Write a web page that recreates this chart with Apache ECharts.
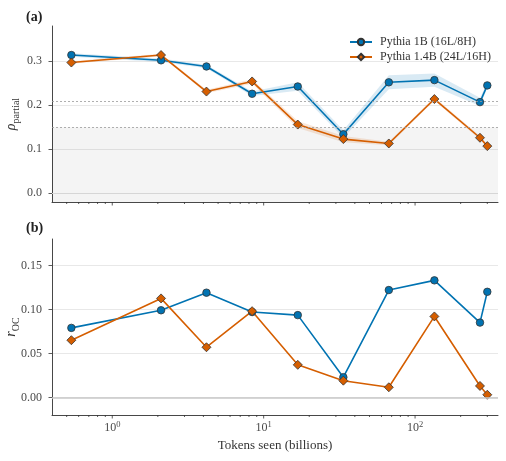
<!DOCTYPE html>
<html>
<head>
<meta charset="utf-8">
<script src="https://cdn.jsdelivr.net/npm/echarts@6/dist/echarts.min.js"></script>
<style>
  html, body { margin: 0; padding: 0; background: #fff; }
  #chart { width: 506px; height: 461px; }
</style>
</head>
<body>
<div id="chart"></div>
<script>
// tokens seen (billions) per checkpoint
const tokens = [0.537, 2.10, 4.19, 8.39, 16.8, 33.6, 67.1, 134.2, 268.4, 300]

// panel (a) rho_partial
const rho1B = [0.314, 0.302, 0.288, 0.226, 0.2425, 0.134, 0.252, 0.257, 0.207, 0.245]
const rho1BLo = [0.310, 0.298, 0.284, 0.221, 0.233, 0.126, 0.236, 0.242, 0.198, 0.239]
const rho1BHi = [0.318, 0.306, 0.292, 0.231, 0.252, 0.143, 0.268, 0.272, 0.217, 0.251]
const rho14B = [0.297, 0.314, 0.231, 0.254, 0.156, 0.123, 0.113, 0.214, 0.126, 0.107]
const rho14BLo = [0.294, 0.311, 0.227, 0.249, 0.148, 0.116, 0.109, 0.210, 0.122, 0.104]
const rho14BHi = [0.300, 0.317, 0.235, 0.259, 0.164, 0.130, 0.117, 0.218, 0.130, 0.110]

// panel (b) r_OC
const roc1B = [0.079, 0.099, 0.119, 0.097, 0.0935, 0.023, 0.122, 0.133, 0.085, 0.120]
const roc14B = [0.065, 0.1125, 0.057, 0.098, 0.037, 0.019, 0.0115, 0.092, 0.013, 0.003]

// reference lines in (a)
const dashedLevels = [0.211, 0.15]

// tick values
const xMajorTicks = [1, 10, 100]
const xMinorTicks = [0.5, 0.6, 0.7, 0.8, 0.9, 2, 3, 4, 5, 6, 7, 8, 9,
  20, 30, 40, 50, 60, 70, 80, 90, 200, 300]
const yTicksA = [0, 0.1, 0.2, 0.3]
const yTicksB = [0, 0.05, 0.10, 0.15]

const names = ['Pythia 1B (16L/8H)', 'Pythia 1.4B (24L/16H)']

const FONT = 'Liberation Serif'
const BLUE = '#0173b2'
const ORANGE = '#d55e00'
const AXIS = '#333'
const LABEL = '#4a4a4a'
const X_MIN = 0.4, X_MAX = 353
const A_MIN = -0.02, A_MAX = 0.38
const B_MIN = -0.02, B_MAX = 0.18

const chart = echarts.init(document.getElementById('chart'))

const pairs = (ys) => tokens.map((t, i) => [t, ys[i]])

const xAxisBase = (idx, showLabel) => ({
  type: 'log',
  logBase: 10,
  gridIndex: idx,
  min: X_MIN,
  max: X_MAX,
  axisLine: { onZero: false, lineStyle: { color: AXIS, width: 0.9 } },
  axisTick: { show: false },
  splitLine: { show: false },
  minorTick: { show: false },
  axisLabel: {
    show: showLabel,
    showMinLabel: false,
    showMaxLabel: false,
    margin: 5,
    formatter: v => '{b|10}{p|' + Math.round(Math.log10(v)) + '}',
    rich: {
      b: { fontFamily: FONT, fontSize: 12, color: LABEL, verticalAlign: 'bottom' },
      p: { fontFamily: FONT, fontSize: 8.5, color: LABEL, verticalAlign: 'bottom', padding: [0, 0, 5, 0] }
    }
  }
})

const yAxisBase = (idx, min, max, ticks, digits, name, rich) => ({
  type: 'value',
  gridIndex: idx,
  min,
  max,
  name,
  nameLocation: 'middle',
  nameRotate: 90,
  nameGap: 31,
  nameMoveOverlap: false,
  nameTextStyle: { rich },
  axisLine: { show: true, onZero: false, lineStyle: { color: AXIS, width: 0.9 } },
  axisTick: { show: true, length: 3.5, customValues: ticks, lineStyle: { color: AXIS, width: 0.8 } },
  axisLabel: {
    customValues: ticks,
    margin: 10,
    fontFamily: FONT,
    fontSize: 12,
    color: LABEL,
    formatter: v => v.toFixed(digits)
  },
  splitLine: { show: true, lineStyle: { color: '#e8e8e8', width: 1 } }
})

const subRich = () => ({
  r: { fontFamily: FONT, fontStyle: 'italic', fontSize: 14, color: '#333', verticalAlign: 'bottom', padding: [0, 0, 3, 0] },
  s: { fontFamily: FONT, fontSize: 10, color: '#333', verticalAlign: 'bottom' }
})

// confidence band as one polygon
const bandSeries = (idx, lo, hi, color) => ({
  type: 'custom',
  xAxisIndex: idx,
  yAxisIndex: idx,
  silent: true,
  z: 2,
  data: tokens.map((t, i) => [t, lo[i], hi[i]]),
  encode: { x: 0, y: [1, 2] },
  renderItem: (params, api) => {
    if (params.dataIndex !== 0) return { type: 'group', children: [] }
    const top = tokens.map((t, i) => api.coord([t, hi[i]]))
    const bot = tokens.map((t, i) => api.coord([t, lo[i]])).reverse()
    return { type: 'polygon', shape: { points: top.concat(bot) }, style: { fill: color } }
  }
})

// log-axis ticks (major + minor), drawn below the bottom spine
const tickSeries = (idx, yMin) => ({
  type: 'custom',
  xAxisIndex: idx,
  yAxisIndex: idx,
  silent: true,
  clip: false,
  z: 6,
  data: xMajorTicks.map(v => [v, yMin, 1]).concat(xMinorTicks.map(v => [v, yMin, 0])),
  encode: { x: 0, y: 1 },
  renderItem: (params, api) => {
    const p = api.coord([api.value(0), api.value(1)])
    const len = api.value(2) ? 3.5 : 2
    return {
      type: 'line',
      shape: { x1: p[0], y1: p[1], x2: p[0], y2: p[1] + len },
      style: { stroke: AXIS, lineWidth: 0.8 }
    }
  }
})

const lineSeries = (idx, name, ys, color, symbol, size) => ({
  type: 'line',
  name,
  xAxisIndex: idx,
  yAxisIndex: idx,
  data: pairs(ys),
  symbol,
  symbolSize: size,
  z: 3,
  lineStyle: { color, width: 1.6 },
  itemStyle: { color, borderColor: '#333', borderWidth: 0.8 },
  emphasis: { disabled: true }
})

const dashStyle = { type: [2, 2], color: '#9a9a9a', width: 0.8 }

const option = {
  animation: false,
  backgroundColor: '#fff',
  textStyle: { fontFamily: FONT },
  title: [
    { text: '(a)', left: 21, top: 5, textStyle: { fontFamily: FONT, fontSize: 14, fontWeight: 'bold', color: '#222' } },
    { text: '(b)', left: 21, top: 216, textStyle: { fontFamily: FONT, fontSize: 14, fontWeight: 'bold', color: '#222' } }
  ],
  legend: {
    data: names,
    orient: 'vertical',
    left: 344,
    top: 31,
    itemWidth: 22,
    itemHeight: 8,
    itemGap: 3,
    textStyle: { fontFamily: FONT, fontSize: 12, color: '#333', padding: [0, 0, 0, 3] }
  },
  grid: [
    { left: 52, right: 8, top: 26, height: 176, outerBoundsMode: 'none' },
    { left: 52, right: 8, top: 239, height: 176, outerBoundsMode: 'none' }
  ],
  xAxis: [
    xAxisBase(0, false),
    Object.assign(xAxisBase(1, true), {
      name: 'Tokens seen (billions)',
      nameLocation: 'middle',
      nameGap: 24,
      nameTextStyle: { fontFamily: FONT, fontSize: 13, color: '#333' }
    })
  ],
  yAxis: [
    yAxisBase(0, A_MIN, A_MAX, yTicksA, 1, '{r|ρ}{s|partial}', subRich()),
    yAxisBase(1, B_MIN, B_MAX, yTicksB, 2, '{r|r}{s|OC}', subRich())
  ],
  series: [
    // shaded region, reference lines (a)
    {
      type: 'line', xAxisIndex: 0, yAxisIndex: 0, data: [], z: 1, silent: true,
      markArea: {
        silent: true,
        itemStyle: { color: 'rgba(0,0,0,0.045)' },
        data: [[{ yAxis: A_MIN }, { yAxis: dashedLevels[1] }]]
      },
      markLine: {
        silent: true, symbol: 'none', label: { show: false }, animation: false,
        data: [
          { yAxis: 0, lineStyle: { type: 'solid', color: '#d6d6d6', width: 1.2 } },
          { yAxis: dashedLevels[0], lineStyle: dashStyle },
          { yAxis: dashedLevels[1], lineStyle: dashStyle }
        ]
      }
    },
    {
      type: 'line', xAxisIndex: 1, yAxisIndex: 1, data: [], z: 1, silent: true,
      markLine: {
        silent: true, symbol: 'none', label: { show: false }, animation: false,
        data: [{ yAxis: 0, lineStyle: { type: 'solid', color: '#c8c8c8', width: 1.6 } }]
      }
    },
    bandSeries(0, rho1BLo, rho1BHi, 'rgba(1,115,178,0.15)'),
    bandSeries(0, rho14BLo, rho14BHi, 'rgba(213,94,0,0.15)'),
    lineSeries(0, names[0], rho1B, BLUE, 'circle', 7.5),
    lineSeries(0, names[1], rho14B, ORANGE, 'diamond', 9),
    lineSeries(1, names[0], roc1B, BLUE, 'circle', 7.5),
    lineSeries(1, names[1], roc14B, ORANGE, 'diamond', 9),
    tickSeries(0, A_MIN),
    tickSeries(1, B_MIN)
  ]
}

chart.setOption(option)
</script>
</body>
</html>
